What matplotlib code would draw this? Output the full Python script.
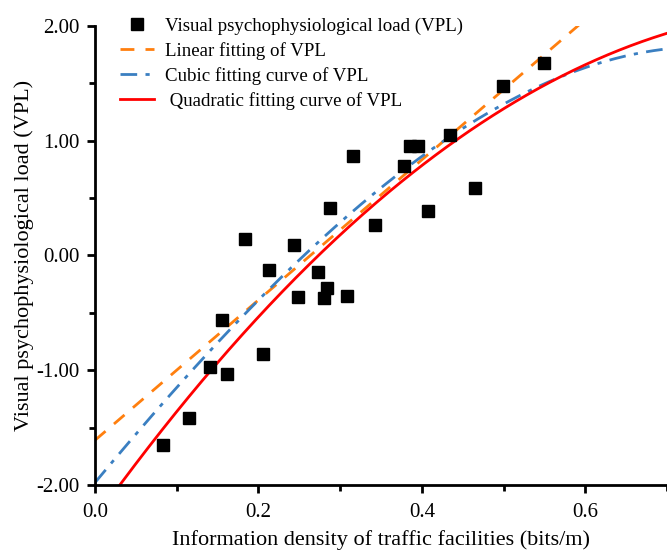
import numpy as np
import matplotlib
matplotlib.use('Agg')
import matplotlib.pyplot as plt
from matplotlib.ticker import MultipleLocator, FormatStrFormatter

plt.rcParams['font.family'] = ['Liberation Serif', 'DejaVu Serif']

# Information density (bits/m) and VPL of each sample
density = [0.083, 0.115, 0.141, 0.162, 0.155, 0.183, 0.205, 0.213, 0.243, 0.249,
           0.273, 0.280, 0.284, 0.287, 0.309, 0.316, 0.343, 0.378, 0.385, 0.395,
           0.407, 0.434, 0.465, 0.499, 0.549]
vpl = [-1.65, -1.42, -0.97, -1.03, -0.56, 0.14, -0.86, -0.13, 0.09, -0.36,
       -0.14, -0.37, -0.28, 0.41, -0.35, 0.87, 0.27, 0.78, 0.95, 0.95,
       0.39, 1.05, 0.59, 1.48, 1.68]

# fitted curve coefficients (highest power first)
linear_coef = [6.11, -1.61]
quad_coef = [-5.513, 9.905, -2.296]
cubic_coef = [-2.930, -2.467, 8.562, -1.979]

xs = np.linspace(0, 0.7, 300)

fig = plt.figure(figsize=(6.67, 5.55), dpi=100)
ax = fig.add_axes([0.1424, 0.1261, 0.8576, 0.8271])

ax.plot(density, vpl, 's', color='black', markersize=8.5, linestyle='none',
        label='Visual psychophysiological load (VPL)', zorder=5)
ax.plot(xs, np.polyval(linear_coef, xs), '--', color='#ff7f0e', linewidth=2,
        dashes=(5, 4), label='Linear fitting of VPL')
ax.plot(xs, np.polyval(cubic_coef, xs), '-.', color='#3a7fc1', linewidth=2,
        dashes=(6, 3, 1.5, 3), label='Cubic fitting curve of VPL')
ax.plot(xs, np.polyval(quad_coef, xs), '-', color='#ff0000', linewidth=2,
        label=' Quadratic fitting curve of VPL')

ax.set_xlim(0, 0.7)
ax.set_ylim(-2, 2)
ax.xaxis.set_major_locator(MultipleLocator(0.2))
ax.xaxis.set_minor_locator(MultipleLocator(0.1))
ax.yaxis.set_major_locator(MultipleLocator(1))
ax.yaxis.set_minor_locator(MultipleLocator(0.5))
ax.xaxis.set_major_formatter(FormatStrFormatter('%.1f'))
ax.yaxis.set_major_formatter(FormatStrFormatter('%.2f'))

for s in ['top', 'right']:
    ax.spines[s].set_visible(False)
for s in ['left', 'bottom']:
    ax.spines[s].set_linewidth(2)
ax.tick_params(which='major', direction='out', length=6, width=2, labelsize=15, pad=5)
ax.tick_params(axis='x', which='major', pad=7)
ax.tick_params(which='minor', direction='out', length=4, width=2)

ax.set_xlabel('Information density of traffic facilities (bits/m)', fontsize=16, labelpad=6)
ax.set_ylabel('Visual psychophysiological load (VPL)', fontsize=16, labelpad=2)

ax.legend(loc='upper left', bbox_to_anchor=(0.03, 1.035), frameon=False, fontsize=13.6,
          handlelength=1.8, handletextpad=0.6, labelspacing=0.38, borderaxespad=0)

plt.savefig('out.png', dpi=100)
